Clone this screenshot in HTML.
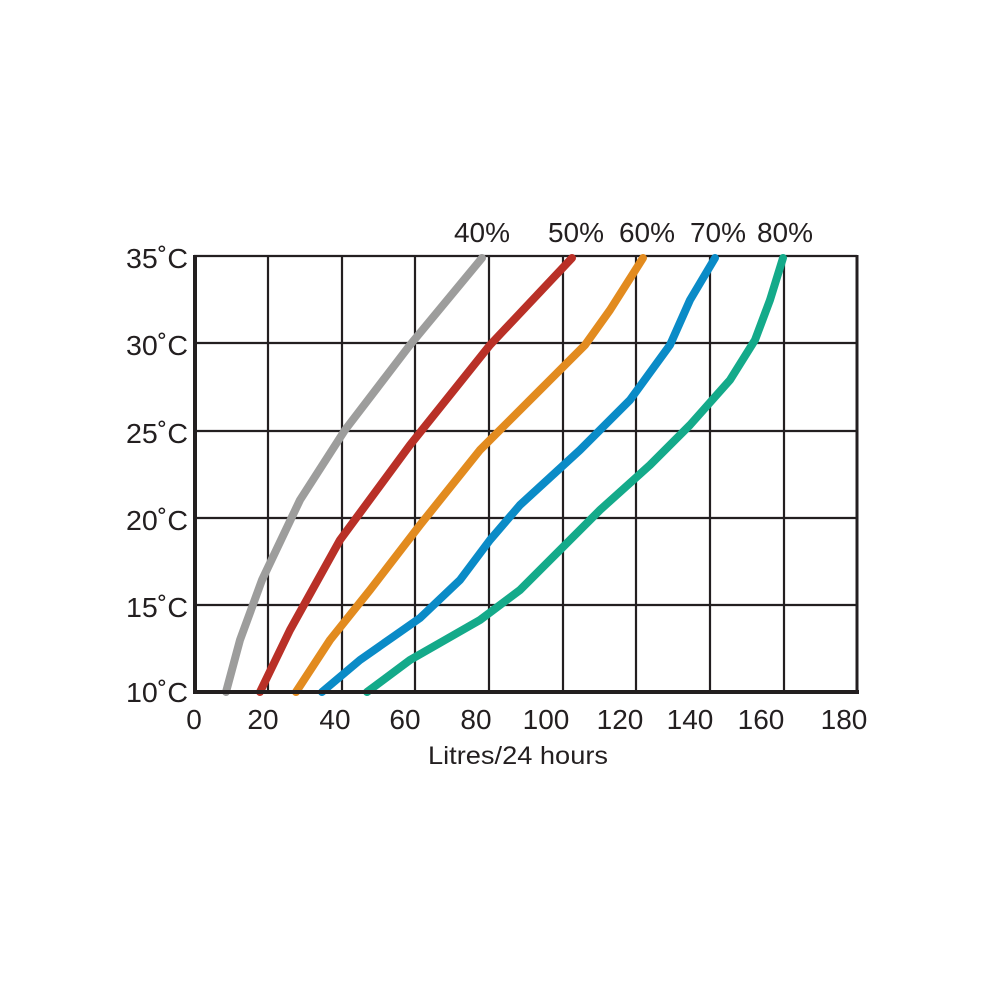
<!DOCTYPE html>
<html><head><meta charset="utf-8"><style>html,body{margin:0;padding:0;background:#fff}</style></head>
<body>
<svg width="1000" height="1000" viewBox="0 0 1000 1000" xmlns="http://www.w3.org/2000/svg">
<rect width="1000" height="1000" fill="#fff"/>
<g stroke="#231f20" stroke-width="2.2">
<line x1="268" y1="256" x2="268" y2="692"/><line x1="342" y1="256" x2="342" y2="692"/>
<line x1="415" y1="256" x2="415" y2="692"/><line x1="489" y1="256" x2="489" y2="692"/>
<line x1="563" y1="256" x2="563" y2="692"/><line x1="636" y1="256" x2="636" y2="692"/>
<line x1="710" y1="256" x2="710" y2="692"/><line x1="784" y1="256" x2="784" y2="692"/>
<line x1="194" y1="256" x2="857" y2="256"/><line x1="194" y1="343" x2="857" y2="343"/>
<line x1="194" y1="431" x2="857" y2="431"/><line x1="194" y1="518" x2="857" y2="518"/>
<line x1="194" y1="605" x2="857" y2="605"/>
</g>
<g fill="none" stroke-width="8" stroke-linejoin="round" stroke-linecap="round">
<polyline stroke="#9d9d9c" points="226,692 240,640 262,580 300,500 345,430 410,345 482,258"/>
<polyline stroke="#b93027" points="260,692 290,630 340,540 410,445 490,345 572,258"/>
<polyline stroke="#e28b1f" points="296,692 330,640 370,590 420,525 480,450 540,390 585,345 610,310 643,258"/>
<polyline stroke="#0a8bc7" points="322,692 360,660 420,618 460,580 490,540 520,505 580,450 630,400 670,345 690,300 715,258"/>
<polyline stroke="#14aa8a" points="367,692 410,660 480,620 520,590 560,550 600,510 650,465 690,425 730,380 755,340 770,300 783,258"/>
</g>
<g stroke="#231f20" fill="none">
<line x1="195" y1="255" x2="195" y2="694" stroke-width="4"/>
<line x1="193" y1="692" x2="859" y2="692" stroke-width="4"/>
<line x1="857" y1="255" x2="857" y2="694" stroke-width="3"/>
</g>
<g font-family="Liberation Sans, sans-serif" font-size="28" fill="#231f20">
<g text-anchor="end">
<text x="188" y="268" textLength="62" lengthAdjust="spacingAndGlyphs">35˚C</text>
<text x="188" y="355" textLength="62" lengthAdjust="spacingAndGlyphs">30˚C</text>
<text x="188" y="443" textLength="62" lengthAdjust="spacingAndGlyphs">25˚C</text>
<text x="188" y="530" textLength="62" lengthAdjust="spacingAndGlyphs">20˚C</text>
<text x="188" y="617" textLength="62" lengthAdjust="spacingAndGlyphs">15˚C</text>
<text x="188" y="702" textLength="62" lengthAdjust="spacingAndGlyphs">10˚C</text>
</g>
<g text-anchor="middle">
<text x="194" y="729">0</text>
<text x="263" y="729">20</text>
<text x="335" y="729">40</text>
<text x="405" y="729">60</text>
<text x="476" y="729">80</text>
<text x="546" y="729">100</text>
<text x="620" y="729">120</text>
<text x="690" y="729">140</text>
<text x="761" y="729">160</text>
<text x="844" y="729">180</text>
<text x="518" y="764" font-size="25" textLength="180" lengthAdjust="spacingAndGlyphs">Litres/24 hours</text>
<text x="482" y="242">40%</text>
<text x="576" y="242">50%</text>
<text x="647" y="242">60%</text>
<text x="718" y="242">70%</text>
<text x="785" y="242">80%</text>
</g>
</g>
</svg>
</body></html>
